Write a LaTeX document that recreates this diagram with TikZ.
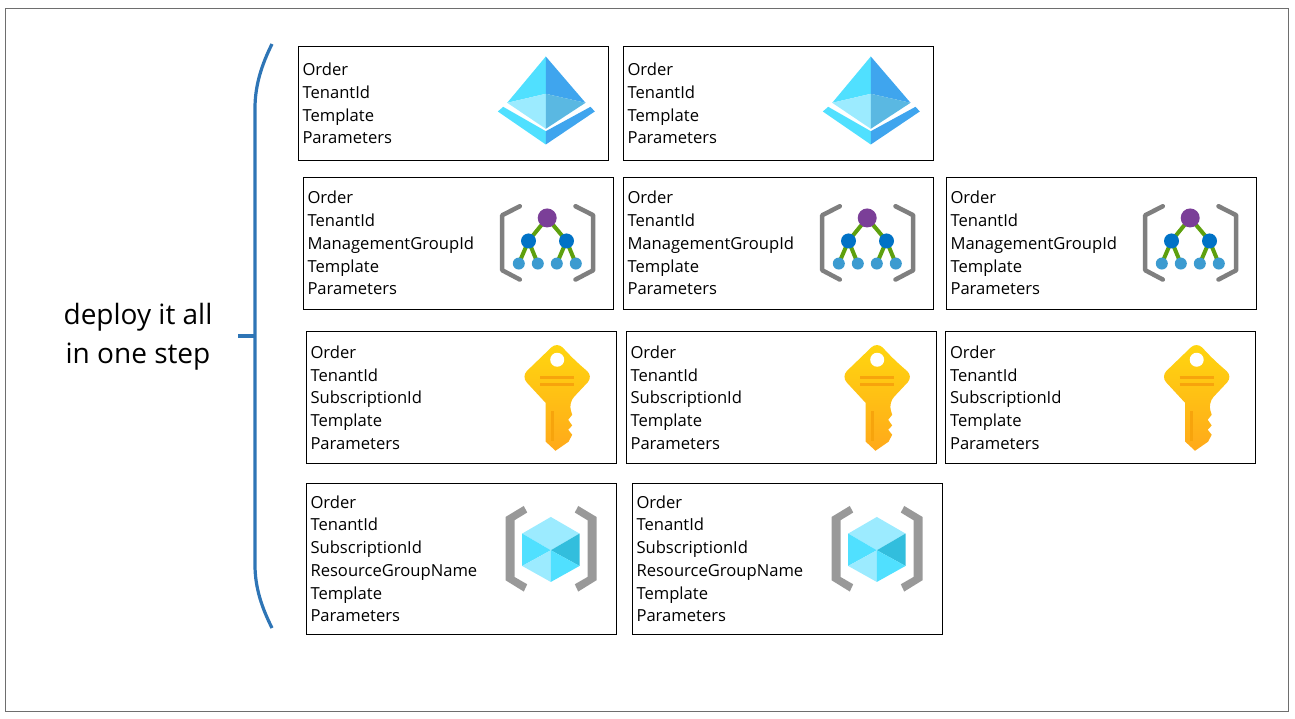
\documentclass[tikz,border=0pt]{standalone}
\usepackage{fontspec}
\setmainfont{Open Sans}
\definecolor{FrameGray}{HTML}{6E6E6E}
\definecolor{BraceBlue}{HTML}{2E75B6}
\definecolor{SkyCyan}{HTML}{50E0FF}
\definecolor{SkyLight}{HTML}{9CEBFF}
\definecolor{SkyBlue}{HTML}{3FA5EE}
\definecolor{SkyMid}{HTML}{5AB8E2}
\definecolor{SkyDeep}{HTML}{32BEDD}
\definecolor{BracketGray}{HTML}{7F7F7F}
\definecolor{BracketPale}{HTML}{999999}
\definecolor{TreePurple}{HTML}{7B3F98}
\definecolor{TreeBlue}{HTML}{0072C6}
\definecolor{TreeLeaf}{HTML}{3C9BD0}
\definecolor{TreeGreen}{HTML}{5EA00E}
\definecolor{KeyTop}{HTML}{FFD70F}
\definecolor{KeyBottom}{HTML}{FFA91A}
\definecolor{KeyGroove}{HTML}{F7A40C}
\usetikzlibrary{
  positioning
}

\begin{document}
\begin{tikzpicture}[
  x=1pt, y=-1pt,
  node distance=16pt and 14pt,
  outerframe/.style={
    draw=FrameGray, line width=1pt
  },
  recbox/.style={
    rectangle, draw=black, line width=1pt,
    text width=301pt, inner xsep=4.5pt, inner ysep=0pt,
    minimum height=113.5pt, align=left,
    font=\fontsize{16.6pt}{22.75pt}\selectfont
  },
  tallbox/.style={
    recbox, minimum height=132pt
  },
  rgbox/.style={
    recbox, minimum height=151pt
  },
  brace/.style={
    draw=BraceBlue, line width=3.2pt
  },
  caption/.style={
    align=center, inner sep=0pt,
    font=\fontsize{28pt}{39.5pt}\selectfont
  },
  tenanticon/.pic={
    \fill[SkyCyan] (-0.7,-44) -- (-39.3,2.3) -- (-0.7,-6.7) -- cycle;
    \fill[SkyBlue] (-0.7,-44) -- (39,2.3) -- (-0.7,-6.7) -- cycle;
    \fill[SkyLight] (-39.3,2.3) -- (-0.7,-6.7) -- (-0.7,28.3) -- cycle;
    \fill[SkyMid] (39,2.3) -- (-0.7,-6.7) -- (-0.7,28.3) -- cycle;
    \fill[SkyCyan] (-48.7,11) -- (-43.3,6.3) -- (-0.7,30.7) -- (-0.7,44) -- cycle;
    \fill[SkyBlue] (48.3,11) -- (44,6.3) -- (-0.7,30.7) -- (-0.7,44) -- cycle;
  },
  mgmticon/.pic={
    \draw[BracketGray, line width=4.5pt, line cap=round, line join=round]
      (-27.7,-37) -- (-45.3,-28) -- (-45.3,27) -- (-27.7,36.3);
    \draw[BracketGray, line width=4.5pt, line cap=round, line join=round]
      (28,-37) -- (45.7,-28) -- (45.7,27) -- (28,36.3);
    \draw[TreeGreen, line width=4pt]
      (-0.3,-25.3) -- (-19,-2.3) (-0.3,-25.3) -- (19,-2.3)
      (-19,-2.3) -- (-28.7,20.3) (-19,-2.3) -- (-9.7,20.3)
      (19,-2.3) -- (9.3,20.3) (19,-2.3) -- (28.3,20.3);
    \fill[TreePurple] (-0.3,-25.3) circle (9.5);
    \fill[TreeBlue] (-19,-2.3) circle (7.5) (19,-2.3) circle (7.5);
    \fill[TreeLeaf] (-28.7,20.3) circle (6) (-9.7,20.3) circle (6)
      (9.3,20.3) circle (6) (28.3,20.3) circle (6);
  },
  keyicon/.pic={
    \shade[top color=KeyTop, bottom color=KeyBottom]
      [rounded corners=8pt] (17,-38) -- (36,-21.3) -- (11.3,5)
      [sharp corners] -- (15,17) -- (11,22) -- (15,27.7) -- (11,32) -- (15,37) -- (11.3,44)
      -- (-1.7,53) -- (-11.7,43.7) -- (-11.7,5)
      [rounded corners=8pt] -- (-36,-21.3) -- (0,-56) -- cycle;
    \fill[white] (0,-38) circle (7);
    \draw[KeyGroove, line width=3pt]
      (-17,-20.3) -- (17,-20.3) (-17,-13) -- (17,-13);
    \draw[KeyGroove, line width=2.7pt] (-5,13.7) -- (-5,43);
  },
  rgicon/.pic={
    \fill[BracketPale] (-27.2,-43.3) -- (-45.5,-32.3) -- (-45.5,31) -- (-27.2,42.3)
      -- (-23.8,35) -- (-36.5,27.7) -- (-36.5,-29) -- (-23.8,-36.7) -- cycle;
    \fill[BracketPale] (27.2,-43.3) -- (45.5,-32.3) -- (45.5,31) -- (27.2,42.3)
      -- (23.8,35) -- (36.5,27.7) -- (36.5,-29) -- (23.8,-36.7) -- cycle;
    \fill[SkyLight] (-0.2,-32.3) -- (-28.8,-15.7) -- (-0.2,1) -- (28.5,-15.7) -- cycle;
    \fill[SkyCyan] (-28.8,-15.7) -- (-0.2,1) -- (-28.8,16.7) -- cycle;
    \fill[SkyDeep] (28.5,-15.7) -- (-0.2,1) -- (28.5,16.7) -- cycle;
    \fill[SkyLight] (-28.8,16.7) -- (-0.2,1) -- (-0.2,32.7) -- cycle;
    \fill[SkyCyan] (28.5,16.7) -- (-0.2,1) -- (-0.2,32.7) -- cycle;
  }
]
  \useasboundingbox (0,0) rectangle (1295,719);
  \draw[outerframe] (5,9) rectangle (1288,711);

  % Caption and brace (left)
  \node[caption] (caption) at (138,336.5) {deploy it all\\in one step};
  \draw[brace] (272,44) .. controls (262,64) and (255,85) .. (255,108)
    -- (255,565) .. controls (255,588) and (262,608) .. (272,628);
  \draw[brace] (238,336) -- (255,336);

  % Tenant row
  \node[recbox] (tenantA) at (453,103.5)
    {Order\\TenantId\\Template\\Parameters};
  \node[recbox, right=of tenantA] (tenantB)
    {Order\\TenantId\\Template\\Parameters};

  % Management group row
  \node[tallbox, below=of tenantA, xshift=5pt] (mgmtA)
    {Order\\TenantId\\ManagementGroupId\\Template\\Parameters};
  \node[tallbox, right=9pt of mgmtA] (mgmtB)
    {Order\\TenantId\\ManagementGroupId\\Template\\Parameters};
  \node[tallbox, right=12pt of mgmtB] (mgmtC)
    {Order\\TenantId\\ManagementGroupId\\Template\\Parameters};

  % Subscription row
  \node[tallbox, below=21.5pt of mgmtA, xshift=3pt] (subA)
    {Order\\TenantId\\SubscriptionId\\Template\\Parameters};
  \node[tallbox, right=9pt of subA] (subB)
    {Order\\TenantId\\SubscriptionId\\Template\\Parameters};
  \node[tallbox, right=8.5pt of subB] (subC)
    {Order\\TenantId\\SubscriptionId\\Template\\Parameters};

  % Resource group row
  \node[rgbox, below=18.5pt of subA] (rgA)
    {Order\\TenantId\\SubscriptionId\\ResourceGroupName\\Template\\Parameters};
  \node[rgbox, right=15pt of rgA] (rgB)
    {Order\\TenantId\\SubscriptionId\\ResourceGroupName\\Template\\Parameters};

  % Icons
  \pic at ([shift={(-62,-3)}]tenantA.east) {tenanticon};
  \pic at ([shift={(-62,-3)}]tenantB.east) {tenanticon};
  \pic at ([xshift=-66pt]mgmtA.east) {mgmticon};
  \pic at ([xshift=-66pt]mgmtB.east) {mgmticon};
  \pic at ([xshift=-66pt]mgmtC.east) {mgmticon};
  \pic at ([xshift=-59.3pt]subA.east) {keyicon};
  \pic at ([xshift=-59.3pt]subB.east) {keyicon};
  \pic at ([xshift=-59.3pt]subC.east) {keyicon};
  \pic at ([shift={(-65.5,-9.5)}]rgA.east) {rgicon};
  \pic at ([shift={(-65.5,-9.5)}]rgB.east) {rgicon};
\end{tikzpicture}
\end{document}
